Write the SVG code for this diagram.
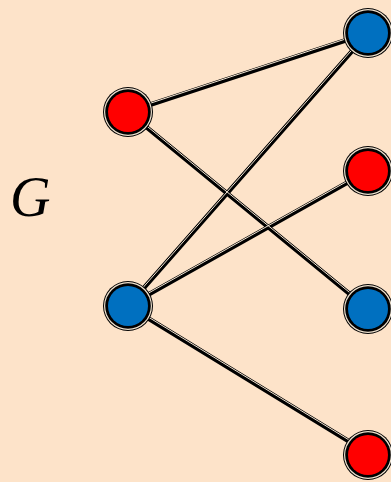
<svg xmlns="http://www.w3.org/2000/svg" width="391" height="482" viewBox="0 0 391 482">
<style>
.e{stroke:#000;stroke-width:4.5;stroke-linecap:round;fill:none}
.h{stroke:#f3e6d4;stroke-width:1;fill:none}
.o1{fill:#000}
.o2{fill:#efe2cf}
.red{fill:#ff0000}
.blue{fill:#0070c0}
</style>
<defs>
<g id="ring"><circle r="25" class="o1"/><circle r="24" class="o2"/><circle r="22.8" class="o1"/></g>
</defs>
<rect width="391" height="482" fill="#fde3c9"/>
<text x="10" y="216" font-family="Liberation Serif, serif" font-style="italic" font-size="56">G</text>
<g id="edges">
<path class="e" d="M128 112L368 33M128 112L368 309M128 306L368 33M128 306L368 171M128 306L368 453"/>
<path class="h" transform="translate(0,-1.4)" d="M128 112L368 33M128 112L368 309M128 306L368 33M128 306L368 171M128 306L368 453"/>
</g>
<g id="u1" transform="translate(128,112)"><use href="#ring"/><circle r="20" class="red"/></g>
<g id="u2" transform="translate(128,306)"><use href="#ring"/><circle r="20" class="blue"/></g>
<g id="v1" transform="translate(368,33)"><use href="#ring"/><circle r="20" class="blue"/></g>
<g id="v2" transform="translate(368,171)"><use href="#ring"/><circle r="20" class="red"/></g>
<g id="v3" transform="translate(368,309)"><use href="#ring"/><circle r="20" class="blue"/></g>
<g id="v4" transform="translate(368,455)"><use href="#ring"/><circle r="20" class="red"/></g>
</svg>
